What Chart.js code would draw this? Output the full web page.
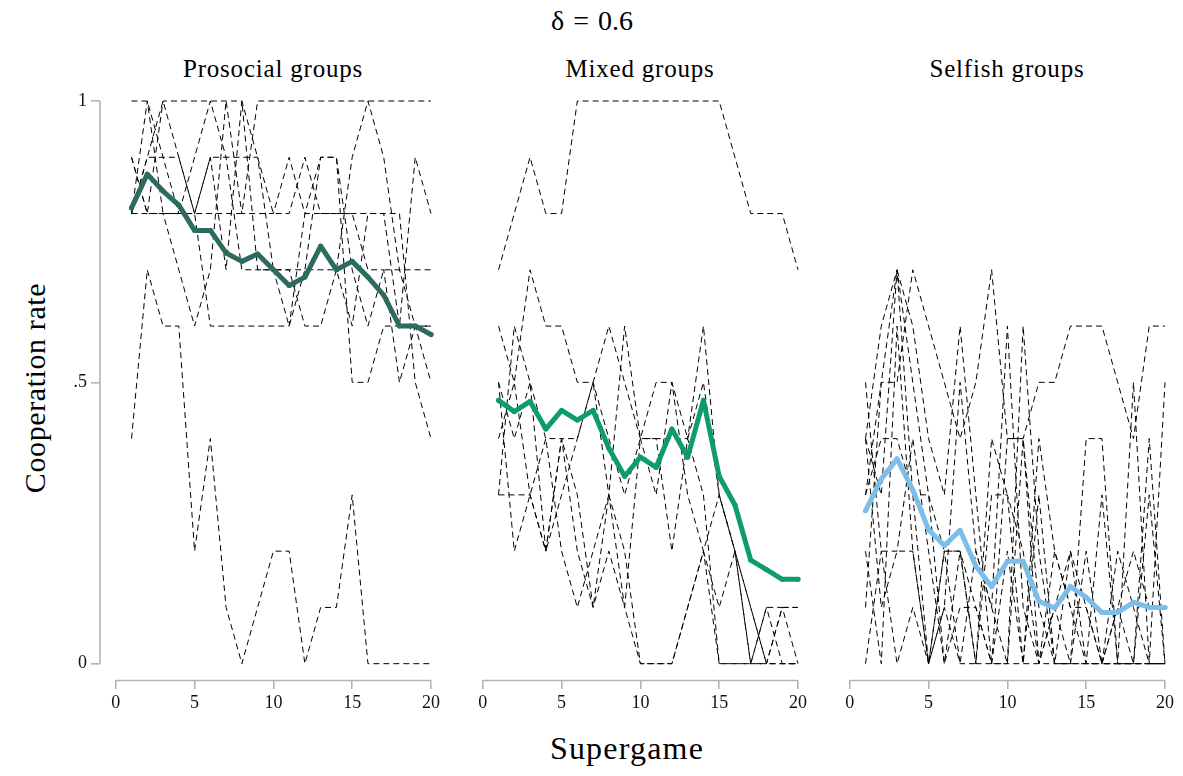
<!DOCTYPE html>
<html><head><meta charset="utf-8">
<script src="https://cdn.jsdelivr.net/npm/chart.js@4.4.1/dist/chart.umd.min.js"></script>
<style>
html,body{margin:0;padding:0;background:#fff;width:1183px;height:776px;overflow:hidden;font-family:'Liberation Serif',serif;}
canvas.c{position:absolute;left:0;top:0;}
.t{position:absolute;transform:translate(-50%,-50%);white-space:nowrap;color:#000;line-height:1;}
</style></head><body>
<div class="t" style="left:592px;top:21px;font-size:28px;word-spacing:2px">δ = 0.6</div>
<div class="t" style="left:273px;top:68px;font-size:25px;letter-spacing:0.8px">Prosocial groups</div>
<div class="t" style="left:640px;top:68px;font-size:25px;letter-spacing:0.8px">Mixed groups</div>
<div class="t" style="left:1007px;top:68px;font-size:25px;letter-spacing:0.8px">Selfish groups</div>
<div class="t" style="left:627px;top:748px;font-size:32px;letter-spacing:1.2px">Supergame</div>
<div class="t" style="left:35px;top:388px;font-size:30px;letter-spacing:0.6px;transform:translate(-50%,-50%) rotate(-90deg)">Cooperation rate</div>
<canvas id="p1" class="c" width="1183" height="776"></canvas>
<canvas id="p2" class="c" width="1183" height="776"></canvas>
<canvas id="p3" class="c" width="1183" height="776"></canvas>
<script>
// ---------- data ----------
const supergames = [1,2,3,4,5,6,7,8,9,10,11,12,13,14,15,16,17,18,19,20];
const xTicks = [0,5,10,15,20];
const yTicks = [0,0.5,1];
const yTickLabels = ['0','.5','1'];

const prosocialMean = [0.81,0.87,0.84,0.815,0.77,0.77,0.73,0.715,0.728,0.70,0.672,0.687,0.742,0.70,0.715,0.687,0.655,0.60,0.60,0.585];
const pro1 = [1,1,0.9,0.8,0.8,0.8,0.8,0.8,1,1,1,1,1,1,1,1,1,1,1,1];
const pro2 = [0.9,0.8,1,1,1,1,1,1,0.9,0.8,0.8,0.9,0.8,0.8,0.8,0.8,0.8,0.6,0.9,0.8];
const pro3 = [0.8,0.9,0.9,0.9,0.8,0.6,0.6,0.6,0.6,0.6,0.6,0.8,0.9,0.9,0.7,0.6,0.7,0.7,0.7,0.7];
const pro4 = [0.8,0.8,0.8,0.8,0.9,1,0.9,0.9,0.9,0.7,0.7,0.6,0.6,0.7,0.6,0.8,0.8,0.8,0.5,0.4];
const pro5 = [0.9,0.8,0.8,0.7,0.6,0.7,1,0.8,0.8,0.8,0.9,0.8,0.8,0.8,0.8,0.7,0.7,0.5,0.6,0.6];
const pro6 = [0.8,1,0.8,0.8,0.8,0.9,0.9,0.7,0.7,0.7,0.7,0.7,0.9,0.9,0.5,0.5,0.6,0.6,0.6,0.6];
const pro7 = [0.4,0.7,0.6,0.6,0.2,0.4,0.1,0,0.1,0.2,0.2,0,0.1,0.1,0.3,0,0,0,0,0];
const pro8 = [0.8,0.9,1,0.9,0.8,0.9,0.7,1,0.7,0.7,0.6,0.7,0.7,0.7,0.9,1,0.9,0.7,0.6,0.5];

const mixedMean = [0.468,0.448,0.466,0.417,0.45,0.433,0.45,0.383,0.333,0.367,0.349,0.417,0.367,0.468,0.333,0.282,0.184,0.167,0.15,0.15];
const mix1 = [0.7,0.8,0.9,0.8,0.8,1,1,1,1,1,1,1,1,1,1,0.9,0.8,0.8,0.8,0.7];
const mix2 = [0.6,0.5,0.7,0.6,0.6,0.5,0.5,0.6,0.5,0.4,0.4,0.4,0.4,0.6,0.3,0.2,0.1,0,0.1,0.1];
const mix3 = [0.3,0.3,0.3,0.2,0.4,0.4,0.5,0.3,0.1,0,0,0,0.1,0.2,0,0,0,0.1,0,0];
const mix4 = [0.5,0.4,0.5,0.2,0.3,0.4,0.5,0.4,0.3,0.4,0.5,0.5,0.4,0.5,0.3,0.2,0.1,0,0,0];
const mix5 = [0.4,0.5,0.3,0.2,0.4,0.3,0.1,0.3,0.2,0,0,0,0.1,0.2,0.1,0.2,0,0.1,0.1,0];
const mix6 = [0.5,0.2,0.3,0.4,0.2,0.1,0.2,0.3,0.6,0.4,0.4,0.2,0.4,0.3,0,0,0,0,0,0];
const mix7 = [0.3,0.6,0.5,0.4,0.4,0.2,0.1,0.2,0.1,0.4,0.3,0.5,0.3,0.2,0.3,0.2,0,0,0.1,0.1];

const selfishMean = [0.272,0.328,0.364,0.309,0.238,0.21,0.237,0.173,0.137,0.182,0.182,0.111,0.099,0.137,0.118,0.091,0.091,0.109,0.10,0.10];
const self1 = [0.4,0.6,0.7,0.5,0.3,0.2,0.2,0.1,0,0.4,0.4,0.5,0.5,0.6,0.6,0.6,0.5,0.4,0.6,0.6];
const self2 = [0.1,0.5,0.7,0.6,0.4,0.3,0.6,0.3,0,0,0,0,0,0,0,0,0,0.5,0,0];
const self3 = [0.3,0.5,0.5,0.7,0.6,0.5,0.4,0.5,0.7,0.4,0.4,0.1,0,0,0,0,0.1,0,0,0];
const self4 = [0.4,0.3,0.7,0.3,0,0.1,0.5,0.2,0.1,0.6,0.1,0,0.1,0,0.2,0,0,0,0.4,0];
const self5 = [0.2,0,0.6,0.2,0,0.2,0,0.2,0.1,0,0.6,0.2,0,0.2,0,0.3,0,0,0,0.5];
const self6 = [0.5,0.2,0.2,0.4,0.2,0,0.2,0,0.4,0.3,0,0.3,0,0,0.4,0.4,0,0,0.3,0];
const self7 = [0.3,0.4,0.4,0.3,0.3,0,0.1,0.1,0,0.2,0,0.4,0.2,0.1,0,0,0.2,0.1,0,0];
const self8 = [0,0.2,0,0.1,0,0.1,0,0,0.3,0.3,0.2,0,0.1,0.2,0.1,0,0,0,0,0];
const self9 = [0.4,0.1,0.2,0.2,0,0.2,0.2,0,0,0,0.4,0,0.2,0.1,0.1,0,0.1,0.2,0.1,0.1];

// ---------- styling ----------
const AXIS = '#b4b4b4';
const FONT = "'Liberation Serif', serif";
const pts = arr => supergames.map((s,i)=>({x:s,y:arr[i]}));

const axisLines = {
  id:'axisLines',
  beforeDatasetsDraw(chart, args, opts){
    const ctx = chart.ctx, xs = chart.scales.x, ys = chart.scales.y;
    ctx.save();
    ctx.strokeStyle = AXIS; ctx.lineWidth = 1.6;
    ctx.beginPath();
    ctx.moveTo(xs.getPixelForValue(0), ys.bottom + 0.5);
    ctx.lineTo(xs.getPixelForValue(20), ys.bottom + 0.5);
    if (opts.yLine) {
      ctx.moveTo(xs.left, ys.getPixelForValue(0));
      ctx.lineTo(xs.left, ys.getPixelForValue(1));
    }
    ctx.stroke();
    ctx.restore();
  }
};

function makePanel(id, mean, groups, color, pad, showY){
  const ds = [{
    data: pts(mean), borderColor: color, backgroundColor: color, borderWidth: 5,
    pointRadius: 2.5, pointBorderWidth: 0, pointBackgroundColor: color,
    borderJoinStyle:'round', borderCapStyle:'round', order: 0, clip:false, tension:0
  }];
  groups.forEach(g => ds.push({
    data: pts(g), borderColor:'#000', borderWidth:1, borderDash:[6,4],
    pointRadius:0, order:1, clip:false, tension:0, fill:false
  }));
  new Chart(document.getElementById(id), {
    type:'line',
    data:{ datasets: ds },
    options:{
      responsive:false, animation:false, events:[],
      layout:{ padding: pad },
      plugins:{ legend:{display:false}, tooltip:{enabled:false}, title:{display:false}, axisLines:{yLine:showY} },
      scales:{
        x:{
          type:'linear', min:-1, max:20,
          afterBuildTicks: s => { s.ticks = xTicks.map(v=>({value:v})); },
          afterFit: s => { s.height = 40; },
          border:{display:false},
          grid:{display:true, drawOnChartArea:false, drawTicks:true, tickLength:9, color:AXIS, lineWidth:1.6},
          ticks:{ font:{family:FONT, size:18}, color:'#111', padding:3, maxRotation:0, autoSkip:false,
                  callback: v => String(v) }
        },
        y:{
          type:'linear', min:-0.029, max:1, display: showY,
          afterBuildTicks: s => { s.ticks = yTicks.map(v=>({value:v})); },
          afterFit: s => { s.width = showY ? 60 : 0; },
          border:{display:false},
          grid:{display:true, drawOnChartArea:false, drawTicks:true, tickLength:9, color:AXIS, lineWidth:1.6},
          ticks:{ font:{family:FONT, size:18}, color:'#111', padding:4, autoSkip:false,
                  callback: v => yTickLabels[yTicks.indexOf(v)] }
        }
      }
    },
    plugins:[axisLines]
  });
}

makePanel('p1', prosocialMean, [pro1,pro2,pro3,pro4,pro5,pro6,pro7,pro8], '#2b6b60',
  {left:40, right:752, top:101, bottom:56}, true);
makePanel('p2', mixedMean, [mix1,mix2,mix3,mix4,mix5,mix6,mix7], '#0e9c6e',
  {left:467, right:385, top:101, bottom:56}, false);
makePanel('p3', selfishMean, [self1,self2,self3,self4,self5,self6,self7,self8,self9], '#7dbde8',
  {left:834, right:18, top:101, bottom:56}, false);
</script>
</body></html>
